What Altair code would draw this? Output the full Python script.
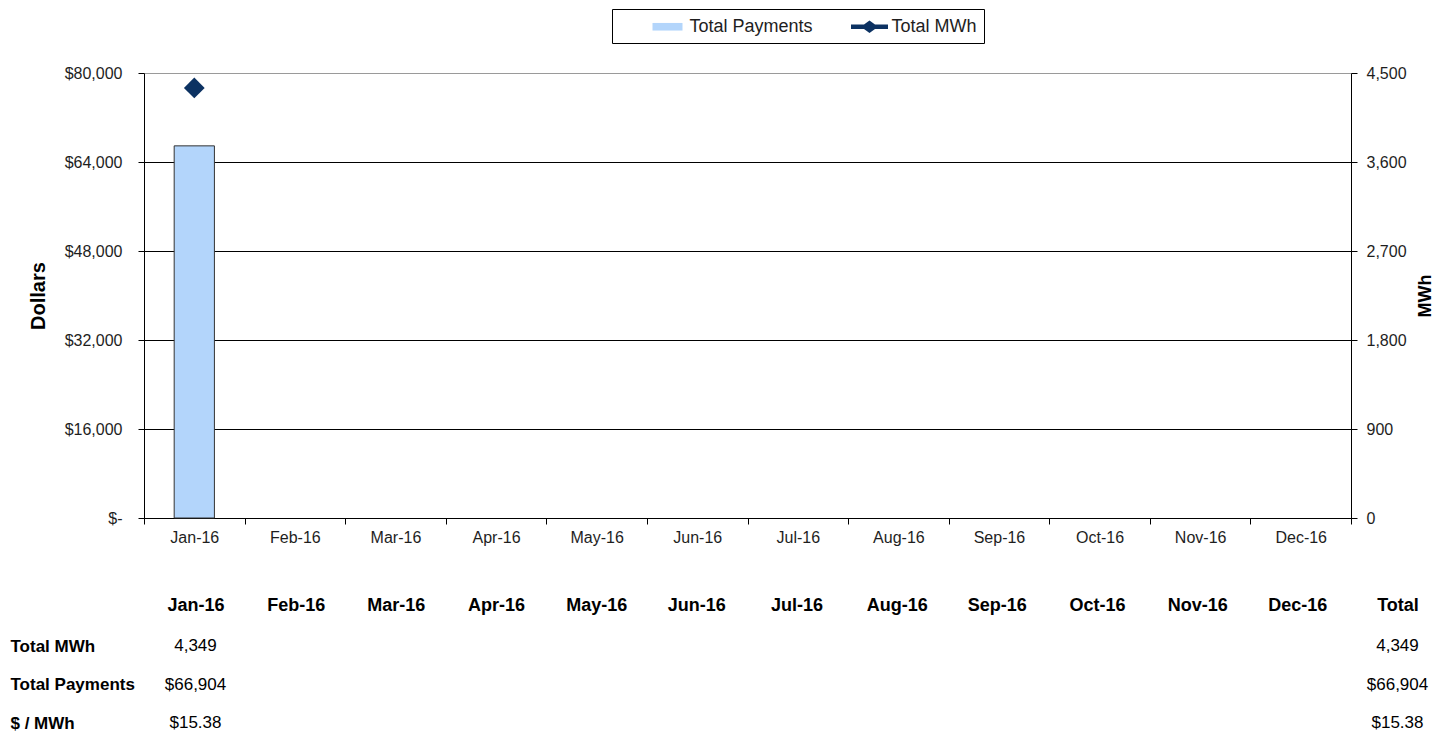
import altair as alt
import pandas as pd

# ---------------- data ----------------
months = ["Jan-16", "Feb-16", "Mar-16", "Apr-16", "May-16", "Jun-16",
          "Jul-16", "Aug-16", "Sep-16", "Oct-16", "Nov-16", "Dec-16"]
payments = [66904, None, None, None, None, None, None, None, None, None, None, None]
mwh = [4349, None, None, None, None, None, None, None, None, None, None, None]
series_names = ["Total Payments", "Total MWh"]
row_labels = ["Total MWh", "Total Payments", "$ / MWh"]
total_label = "Total"
dollar_ticks = [0, 16000, 32000, 48000, 64000, 80000]
mwh_ticks = [0, 900, 1800, 2700, 3600, 4500]

# ---------------- styles ----------------
FONT = "Liberation Sans, Arial, sans-serif"
BAR = "#b3d5fb"
NAVY = "#0c3262"
LBL = "#1e1e1e"
RECT_PATH = "M-1.5,-0.38H1.5V0.38H-1.5Z"
LINE_PATH = ("M-1.85,-0.22H-0.55L0,-0.62L0.55,-0.22H1.85V0.22H0.55"
             "L0,0.62L-0.55,0.22H-1.85Z")

df = pd.DataFrame({"month": months, "payments": payments, "mwh": mwh})

x_enc = alt.X(
    "month:N", sort=months,
    scale=alt.Scale(domain=months, paddingInner=0, paddingOuter=0),
    axis=alt.Axis(title=None, labelAngle=0, tickBand="extent", tickSize=6,
                  tickColor="black", domainColor="black", labelFont=FONT,
                  labelFontSize=16, labelColor=LBL, labelPadding=5, grid=False),
)

bars = alt.Chart(df).mark_bar(
    width=alt.RelativeBandSize(0.4), fill=BAR, stroke="#333333", strokeWidth=1
).encode(
    x=x_enc,
    y=alt.Y(
        "payments:Q",
        scale=alt.Scale(domain=[0, 80000], nice=False),
        axis=alt.Axis(
            title="Dollars", values=dollar_ticks,
            labelExpr="datum.value == 0 ? '$-' : '$' + format(datum.value, ',')",
            grid=True,
            gridColor={"condition": {"test": "datum.value >= 80000", "value": "#9a9a9a"},
                       "value": "black"},
            gridWidth=1, tickSize=6, tickColor="black", domainColor="black",
            labelFont=FONT, labelFontSize=16, labelColor=LBL, labelPadding=16,
            titleFont=FONT, titleFontSize=20, titleFontWeight="bold",
            titleColor="black", titlePadding=16,
        ),
    ),
)

diamond = alt.Chart(df).mark_point(
    shape="diamond", filled=True, size=430, color=NAVY, opacity=1
).encode(
    x=x_enc,
    y=alt.Y(
        "mwh:Q",
        scale=alt.Scale(domain=[0, 4500], nice=False),
        axis=alt.Axis(
            orient="right", title="MWh", values=mwh_ticks, format=",.0f",
            grid=False, tickSize=6, tickColor="black", domainColor="black",
            labelFont=FONT, labelFontSize=16, labelColor=LBL, labelPadding=9,
            titleFont=FONT, titleFontSize=18, titleFontWeight="bold",
            titleColor="black", titlePadding=28, titleAngle=270,
        ),
    ),
)

leg = alt.Legend(
    title=None, orient="none", legendX=468, legendY=-64, direction="horizontal",
    padding=7, strokeColor="black", fillColor="white",
    labelFont=FONT, labelFontSize=18, labelColor=LBL,
    symbolSize=400, symbolStrokeColor="#222222", symbolStrokeWidth=1,
    symbolOpacity=1, symbolOffset=38, labelOffset=11.5, columnPadding=8,
)

legend_layer = alt.Chart(pd.DataFrame({"series": series_names})).transform_filter(
    "false"
).mark_point(filled=True, stroke="#222222", strokeWidth=1).encode(
    color=alt.Color("series:N", scale=alt.Scale(domain=series_names, range=[BAR, NAVY]),
                    legend=leg),
    shape=alt.Shape("series:N", scale=alt.Scale(domain=series_names,
                                                range=[RECT_PATH, LINE_PATH]),
                    legend=leg),
)

main = alt.layer(bars, diamond, legend_layer).resolve_scale(
    y="independent"
).properties(width=1207, height=445)

# ---------------- table ----------------
cols = months + [total_label]
records = []
for m, p, e in zip(months, payments, mwh):
    if p is None or e is None:
        continue
    records += [
        {"col": m, "row": row_labels[0], "value": f"{e:,.0f}"},
        {"col": m, "row": row_labels[1], "value": f"${p:,.0f}"},
        {"col": m, "row": row_labels[2], "value": f"${p / e:,.2f}"},
    ]
tot_p = sum(p for p in payments if p is not None)
tot_e = sum(e for e in mwh if e is not None)
records += [
    {"col": total_label, "row": row_labels[0], "value": f"{tot_e:,.0f}"},
    {"col": total_label, "row": row_labels[1], "value": f"${tot_p:,.0f}"},
    {"col": total_label, "row": row_labels[2], "value": f"${tot_p / tot_e:,.2f}"},
]
table_df = pd.DataFrame(records)

table = alt.Chart(table_df).mark_text(
    font=FONT, fontSize=17, color="black", align="center", baseline="middle"
).encode(
    x=alt.X(
        "col:N", sort=cols,
        scale=alt.Scale(type="point", domain=cols, range=[51.5, 1253.5], padding=0),
        axis=alt.Axis(orient="top", title=None, labelAngle=0, domain=False,
                      ticks=False, tickSize=0, labelPadding=41,
                      labelBaseline="middle", labelFont=FONT, labelFontSize=18,
                      labelFontWeight="bold", labelColor="black", grid=False),
    ),
    y=alt.Y(
        "row:N", sort=row_labels,
        scale=alt.Scale(type="point", domain=row_labels, padding=0),
        axis=alt.Axis(title=None, domain=False, ticks=False, tickSize=0,
                      labelAlign="left", labelPadding=134, labelFont=FONT,
                      labelFontSize=17, labelFontWeight="bold",
                      labelColor="black", grid=False),
    ),
    text="value:N",
).properties(width=1280, height=77)

chart = alt.vconcat(main, table, spacing=51).properties(
    padding={"left": 2, "top": 0, "right": 0, "bottom": 0},
    background="white",
).configure_view(stroke=None)

chart.save("out.html", embed_options={"renderer": "svg", "actions": False})
